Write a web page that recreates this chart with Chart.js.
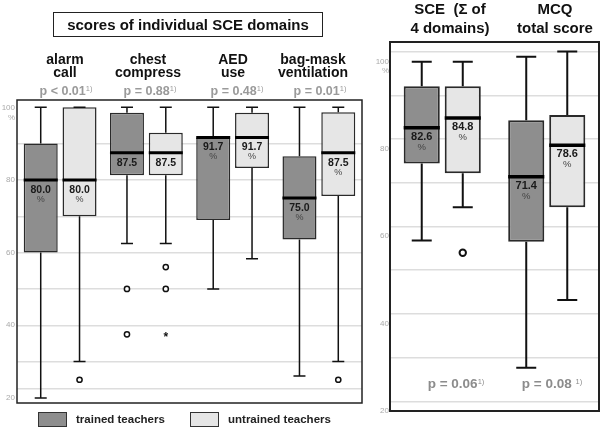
<!DOCTYPE html>
<html>
<head>
<meta charset="utf-8">
<script src="https://cdn.jsdelivr.net/npm/chart.js@4.4.1/dist/chart.umd.min.js"></script>
<style>
  body { margin: 0; background: #fff; font-family: "Liberation Sans", Arial, Helvetica, sans-serif; }
  #page { position: relative; width: 600px; height: 427px; overflow: hidden; background: #fff; }
  .wrap { position: absolute; top: 0; height: 427px; }
  .t { position: absolute; transform: translate(-50%, -50%); white-space: nowrap; text-align: center; color: #111; }
  .head { font-weight: bold; font-size: 14px; line-height: 12.5px; }
  .head2 { font-weight: bold; font-size: 15px; line-height: 19px; }
  .pv { font-weight: bold; font-size: 12.5px; color: #9a9a9a; }
  .pv2 { font-weight: bold; font-size: 13.5px; color: #8c8c8c; }
  .sup { font-size: 7.5px; vertical-align: 4px; font-weight: normal; }
  #boxTitle { position: absolute; left: 53px; top: 12px; width: 268px; height: 23px; border: 1.5px solid #222;
              font-weight: bold; font-size: 15px; line-height: 23px; text-align: center; color: #111; }
  .sw { position: absolute; top: 412px; width: 27px; height: 13px; border: 1px solid #333; }
  .lg { position: absolute; top: 412px; font-weight: bold; font-size: 11.5px; line-height: 15px; color: #222; }
</style>
</head>
<body>
<div id="page">
  <div class="wrap" style="left:0;width:370px;"><canvas id="left" width="370" height="427"></canvas></div>
  <div class="wrap" style="left:370px;width:230px;"><canvas id="right" width="230" height="427"></canvas></div>

  <div id="boxTitle">scores of individual SCE domains</div>

  <div class="t head" style="left:65px;top:65px;">alarm<br>call</div>
  <div class="t head" style="left:148px;top:65px;">chest<br>compress</div>
  <div class="t head" style="left:233px;top:65px;">AED<br>use</div>
  <div class="t head" style="left:313px;top:65px;">bag-mask<br>ventilation</div>

  <div class="t pv" style="left:66px;top:91px;">p &lt; 0.01<span class="sup">1)</span></div>
  <div class="t pv" style="left:150px;top:91px;">p = 0.88<span class="sup">1)</span></div>
  <div class="t pv" style="left:237px;top:91px;">p = 0.48<span class="sup">1)</span></div>
  <div class="t pv" style="left:320px;top:91px;">p = 0.01<span class="sup">1)</span></div>

  <div class="t head2" style="left:450px;top:18px;">SCE&nbsp; (&Sigma; of<br>4 domains)</div>
  <div class="t head2" style="left:555px;top:18px;">MCQ<br>total score</div>

  <div class="t pv2" style="left:456px;top:383px;">p = 0.06<span class="sup">1)</span></div>
  <div class="t pv2" style="left:552px;top:383px;">p = 0.08 <span class="sup">1)</span></div>

  <div class="sw" style="left:38px;background:#8e8e8e;"></div>
  <div class="lg" style="left:76px;">trained teachers</div>
  <div class="sw" style="left:190px;background:#e6e6e6;"></div>
  <div class="lg" style="left:228px;">untrained teachers</div>
</div>

<script>
// individual SCE domains
const domains = ['alarm call', 'chest compress', 'AED use', 'bag-mask ventilation'];
const domainUnits = ['%', '', '%', '%'];

const trainedMin = [20, 62.5, 50, 26];
const trainedQ1 = [60, 81.3, 69, 63.6];
const trainedMedian = [80.0, 87.5, 91.7, 75.0];
const trainedQ3 = [90, 98.5, 91.7, 86.5];
const trainedMax = [100, 100, 100, 100];
const trainedOutliers = [[], [50, 37.5], [], []];
const trainedExtremes = [[], [], [], []];

const untrainedMin = [30, 62.5, 58.3, 30];
const untrainedQ1 = [70, 81.3, 83.3, 75.6];
const untrainedMedian = [80.0, 87.5, 91.7, 87.5];
const untrainedQ3 = [100, 93, 98.5, 98.6];
const untrainedMax = [100, 100, 100, 100];
const untrainedOutliers = [[25], [56, 50], [], [25]];
const untrainedExtremes = [[], [37.5], [], []];

// SCE sum and MCQ
const totals = ['SCE (Σ of 4 domains)', 'MCQ total score'];
const totalUnits = ['%', '%'];

const totTrainedMin = [56.8, 27.7];
const totTrainedQ1 = [74.4, 56.5];
const totTrainedMedian = [82.6, 71.4];
const totTrainedQ3 = [92.1, 84.3];
const totTrainedMax = [97.7, 98.8];
const totTrainedOutliers = [[], []];

const totUntrainedMin = [64.4, 43.2];
const totUntrainedQ1 = [72.2, 64.4];
const totUntrainedMedian = [84.8, 78.6];
const totUntrainedQ3 = [92.1, 85.5];
const totUntrainedMax = [97.7, 100];
const totUntrainedOutliers = [[54], []];

// axis ticks
const leftGridValues = [22.4, 30, 40, 50, 60, 70, 80, 90];
const leftTickValues = [100, 80, 60, 40, 20];
const leftTickText = ['100', '80', '60', '40', '20'];
const rightGridValues = [20, 30, 40, 50, 60, 70, 80, 90, 100];
const rightTickValues = [100, 80, 60, 40, 20];
const rightTickText = ['100', '80', '60', '40', '20'];

const FONT = '"Liberation Sans", Arial, Helvetica, sans-serif';
const trainedColor = '#8e8e8e';
const untrainedColor = '#e6e6e6';

function pairs(lo, hi) {
    return lo.map((v, i) => [v, hi[i]]);
}

// grid ticks and label ticks are kept apart, the original labels sit a bit off the grid
function makeTicks(gridValues, labelValues, labelText, shift, topShift) {
    const ticks = gridValues.map(v => ({ value: v, grid: true, txt: '' }));
    labelValues.forEach((v, i) => {
        const top = i === 0;
        ticks.push({
            value: v + shift + (top ? topShift : 0),
            grid: false,
            txt: top ? [labelText[i], '%'] : labelText[i]
        });
    });
    return ticks;
}

const boxWhiskers = {
    id: 'boxWhiskers',
    afterDatasetsDraw(chart, args, opts) {
        const ctx = chart.ctx;
        const y = chart.scales.y;
        chart.data.datasets.forEach((ds, di) => {
            const meta = chart.getDatasetMeta(di);
            meta.data.forEach((bar, i) => {
                const x = bar.x;
                const half = bar.width / 2;
                const cap = opts.capWidth / 2;
                const yHi = y.getPixelForValue(ds.data[i][1]);
                const yLo = y.getPixelForValue(ds.data[i][0]);
                const yMax = y.getPixelForValue(ds.whiskerMax[i]);
                const yMin = y.getPixelForValue(ds.whiskerMin[i]);

                ctx.save();
                ctx.strokeStyle = '#111';
                ctx.lineWidth = opts.lineWidth;
                ctx.beginPath();
                ctx.moveTo(x, yHi); ctx.lineTo(x, yMax);
                ctx.moveTo(x - cap, yMax); ctx.lineTo(x + cap, yMax);
                ctx.moveTo(x, yLo); ctx.lineTo(x, yMin);
                ctx.moveTo(x - cap, yMin); ctx.lineTo(x + cap, yMin);
                ctx.stroke();

                // median
                const ym = y.getPixelForValue(ds.median[i]);
                ctx.strokeStyle = '#000';
                ctx.lineWidth = opts.medianWidth;
                ctx.beginPath();
                ctx.moveTo(x - half, ym); ctx.lineTo(x + half, ym);
                ctx.stroke();

                ctx.fillStyle = '#1a1a1a';
                ctx.textAlign = 'center';
                ctx.textBaseline = 'middle';
                ctx.font = opts.labelFont;
                ctx.fillText(ds.median[i].toFixed(1), x, ym + opts.labelGap);
                if (ds.units[i]) {
                    ctx.font = opts.unitFont;
                    ctx.fillStyle = '#444';
                    ctx.fillText(ds.units[i], x, ym + opts.unitGap);
                }

                // outliers (o) and extremes (*)
                ctx.strokeStyle = '#111';
                ctx.lineWidth = opts.lineWidth;
                ds.outliers[i].forEach(v => {
                    ctx.beginPath();
                    ctx.arc(x, y.getPixelForValue(v), opts.dotRadius, 0, Math.PI * 2);
                    ctx.fillStyle = '#fff';
                    ctx.fill();
                    ctx.stroke();
                });
                ctx.fillStyle = '#111';
                ctx.font = 'bold 12px ' + FONT;
                (ds.extremes || [])[i] && ds.extremes[i].forEach(v => {
                    ctx.fillText('*', x, y.getPixelForValue(v) + 3);
                });
                ctx.restore();
            });
        });
    },
    afterDraw(chart, args, opts) {
        const a = chart.chartArea;
        const ctx = chart.ctx;
        ctx.save();
        ctx.strokeStyle = '#222';
        ctx.lineWidth = opts.frameWidth;
        ctx.strokeRect(a.left, a.top, a.right - a.left, a.bottom - a.top);
        ctx.restore();
    }
};

function boxChart(canvas, labels, sets, cfg) {
    return new Chart(canvas, {
        type: 'bar',
        data: { labels: labels, datasets: sets },
        plugins: [boxWhiskers],
        options: {
            responsive: false,
            animation: false,
            devicePixelRatio: 1,
            layout: { padding: cfg.padding },
            datasets: {
                bar: {
                    categoryPercentage: cfg.categoryPercentage,
                    barPercentage: cfg.barPercentage,
                    borderColor: '#2a2a2a',
                    borderWidth: cfg.borderWidth,
                    borderSkipped: false
                }
            },
            plugins: {
                legend: { display: false },
                tooltip: { enabled: false },
                boxWhiskers: cfg.box
            },
            scales: {
                x: { display: false },
                y: {
                    min: cfg.min,
                    max: cfg.max,
                    afterFit: s => { s.width = cfg.axisWidth; },
                    afterBuildTicks: s => { s.ticks = cfg.ticks; },
                    border: { display: false },
                    grid: {
                        drawTicks: false,
                        lineWidth: 1.5,
                        color: c => (c.tick && c.tick.grid) ? '#dddddd' : 'rgba(0,0,0,0)'
                    },
                    ticks: {
                        autoSkip: false,
                        padding: cfg.tickPadding,
                        color: '#aaaaaa',
                        font: { size: 8, family: FONT },
                        callback: (v, i, ticks) => ticks[i].txt
                    }
                }
            }
        }
    });
}

boxChart(document.getElementById('left'), domains, [
    {
        label: 'trained teachers',
        data: pairs(trainedQ1, trainedQ3),
        backgroundColor: trainedColor,
        median: trainedMedian, whiskerMin: trainedMin, whiskerMax: trainedMax,
        outliers: trainedOutliers, extremes: trainedExtremes, units: domainUnits
    },
    {
        label: 'untrained teachers',
        data: pairs(untrainedQ1, untrainedQ3),
        backgroundColor: untrainedColor,
        median: untrainedMedian, whiskerMin: untrainedMin, whiskerMax: untrainedMax,
        outliers: untrainedOutliers, extremes: untrainedExtremes, units: domainUnits
    }
], {
    padding: { top: 100, bottom: 24, left: 0, right: 8 },
    categoryPercentage: 0.9,
    barPercentage: 0.876,
    borderWidth: 1.5,
    min: 18.6,
    max: 102,
    axisWidth: 17,
    tickPadding: 2,
    ticks: makeTicks(leftGridValues, leftTickValues, leftTickText, 0, -1.5),
    box: {
        lineWidth: 1.5, capWidth: 12, medianWidth: 3, dotRadius: 2.6,
        labelFont: 'bold 10.5px ' + FONT, unitFont: '9px ' + FONT,
        labelGap: 10, unitGap: 19.5, frameWidth: 1.5
    }
});

boxChart(document.getElementById('right'), totals, [
    {
        label: 'trained teachers',
        data: pairs(totTrainedQ1, totTrainedQ3),
        backgroundColor: trainedColor,
        median: totTrainedMedian, whiskerMin: totTrainedMin, whiskerMax: totTrainedMax,
        outliers: totTrainedOutliers, units: totalUnits
    },
    {
        label: 'untrained teachers',
        data: pairs(totUntrainedQ1, totUntrainedQ3),
        backgroundColor: untrainedColor,
        median: totUntrainedMedian, whiskerMin: totUntrainedMin, whiskerMax: totUntrainedMax,
        outliers: totUntrainedOutliers, units: totalUnits
    }
], {
    padding: { top: 42, bottom: 16, left: 0, right: 1 },
    categoryPercentage: 0.785,
    barPercentage: 0.88,
    borderWidth: 2,
    min: 17.8,
    max: 102.2,
    axisWidth: 20,
    tickPadding: 1,
    ticks: makeTicks(rightGridValues, rightTickValues, rightTickText, -2.2, -1.2),
    box: {
        lineWidth: 2, capWidth: 20, medianWidth: 3.5, dotRadius: 3.2,
        labelFont: 'bold 11px ' + FONT, unitFont: '9.5px ' + FONT,
        labelGap: 9, unitGap: 19.5, frameWidth: 2
    }
});
</script>
</body>
</html>
